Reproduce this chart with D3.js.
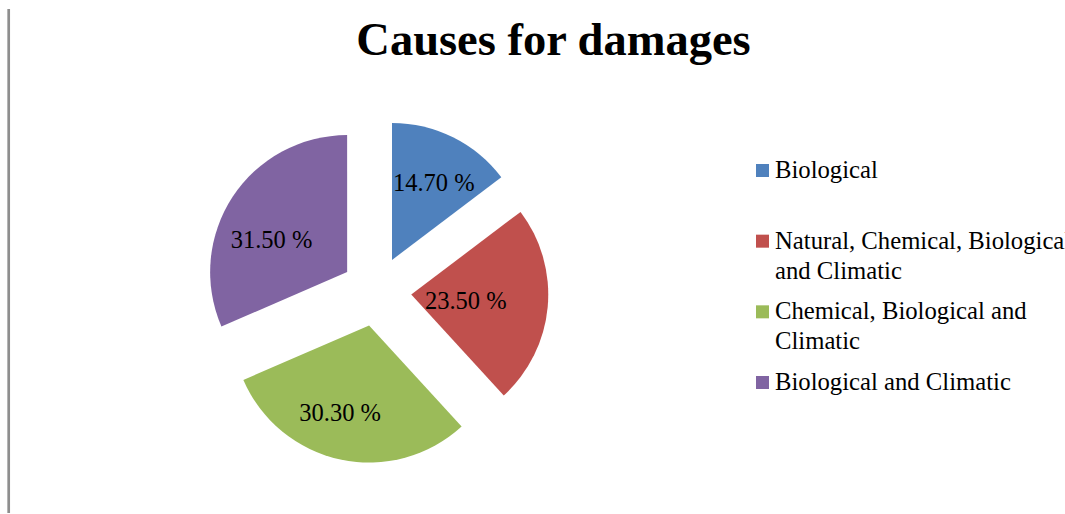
<!DOCTYPE html>
<html>
<head>
<meta charset="utf-8">
<script src="https://cdn.jsdelivr.net/npm/d3@7"></script>
<style>
  html, body { margin: 0; padding: 0; background: #fff; }
  svg { display: block; }
</style>
</head>
<body>
<svg id="chart" width="1065" height="514"></svg>
<script>
// ---- data ----
const categories = [
  "Biological",
  "Natural, Chemical, Biological and Climatic",
  "Chemical, Biological and Climatic",
  "Biological and Climatic"
];
const legendLines = [
  ["Biological"],
  ["Natural, Chemical, Biological", "and Climatic"],
  ["Chemical, Biological and", "Climatic"],
  ["Biological and Climatic"]
];
const values = [14.7, 23.5, 30.3, 31.5];
const valueLabels = ["14.70 %", "23.50 %", "30.30 %", "31.50 %"];
const colors = ["#4F81BD", "#C0504D", "#9BBB59", "#8064A2"];
const title = "Causes for damages";

// ---- layout ----
const W = 1065, H = 514;
const cx = 376.4, cy = 291.3, R = 137, explode = 35;
const labelFrac = [0.64, 0.40, 0.67, 0.60];
const labelDev = [2, 0.5, 6.3, -10.2]; // degrees
const fontFamily = "'Liberation Serif', 'Times New Roman', serif";

const svg = d3.select("#chart");

// left border line
svg.append("line")
  .attr("x1", 8.7).attr("x2", 8.7).attr("y1", 9).attr("y2", 513)
  .attr("stroke", "#8e8e8e").attr("stroke-width", 2.7);

// title
svg.append("text")
  .attr("x", 553.5).attr("y", 55)
  .attr("text-anchor", "middle")
  .attr("font-family", fontFamily)
  .attr("font-weight", "bold")
  .attr("font-size", 46.5)
  .attr("fill", "#000")
  .text(title);

const pie = d3.pie().sort(null).value(d => d).startAngle(0).endAngle(2 * Math.PI);
const arcs = pie(values);
const arc = d3.arc().innerRadius(0).outerRadius(R);

const g = svg.append("g").attr("transform", `translate(${cx},${cy})`);

const slices = g.selectAll("g.slice").data(arcs).enter().append("g")
  .attr("class", "slice")
  .attr("transform", d => {
    const a = (d.startAngle + d.endAngle) / 2;
    return `translate(${explode * Math.sin(a)},${-explode * Math.cos(a)})`;
  });

slices.append("path")
  .attr("d", arc)
  .attr("fill", (d, i) => colors[i]);

slices.append("text")
  .attr("x", (d, i) => {
    const a = (d.startAngle + d.endAngle) / 2 + labelDev[i] * Math.PI / 180;
    return labelFrac[i] * R * Math.sin(a);
  })
  .attr("y", (d, i) => {
    const a = (d.startAngle + d.endAngle) / 2 + labelDev[i] * Math.PI / 180;
    return -labelFrac[i] * R * Math.cos(a);
  })
  .attr("dy", "0.35em")
  .attr("text-anchor", "middle")
  .attr("font-family", fontFamily)
  .attr("font-size", 24.5)
  .attr("fill", "#000")
  .text((d, i) => valueLabels[i]);

// legend
const ly = d3.scalePoint().domain(categories).range([178, 390]);
const legend = svg.append("g");
const items = legend.selectAll("g.item").data(categories).enter().append("g")
  .attr("class", "item")
  .attr("transform", d => `translate(0,${ly(d)})`);

items.append("rect")
  .attr("x", 756).attr("y", -14)
  .attr("width", 13).attr("height", 13)
  .attr("fill", (d, i) => colors[i]);

items.append("text")
  .attr("x", 775).attr("y", 0)
  .attr("font-family", fontFamily)
  .attr("font-size", 24.7)
  .attr("fill", "#000")
  .selectAll("tspan")
  .data((d, i) => legendLines[i])
  .enter().append("tspan")
  .attr("x", 775)
  .attr("dy", (t, j) => j === 0 ? 0 : 30)
  .text(t => t);
</script>
</body>
</html>
